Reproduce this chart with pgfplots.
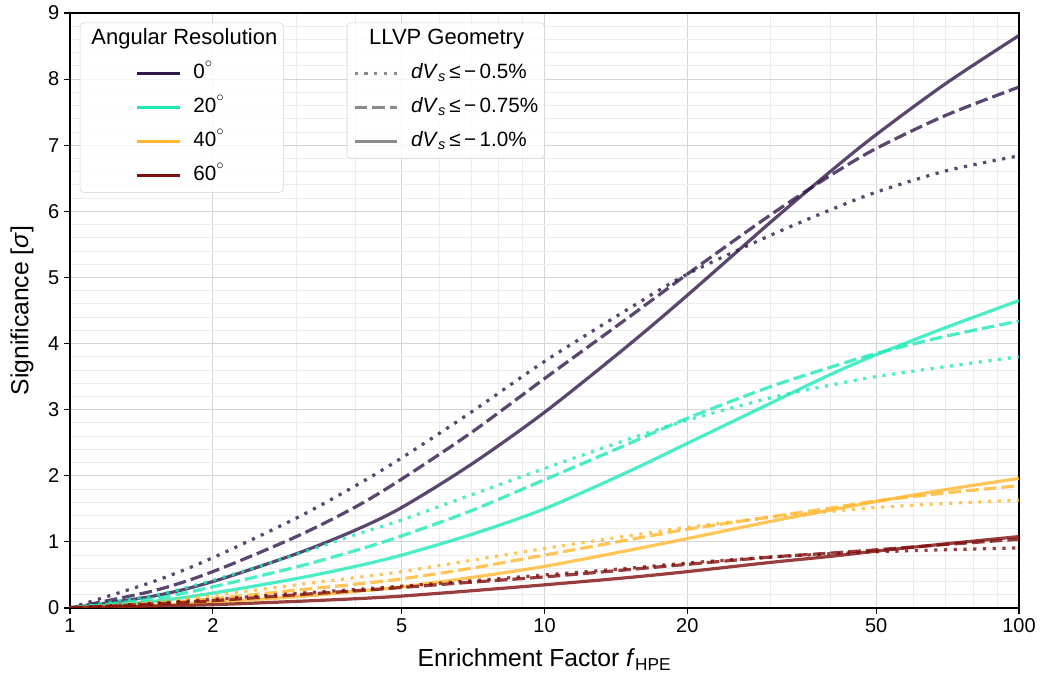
\documentclass[border=0pt]{standalone}
\usepackage{fontspec}
\setmainfont{Liberation Sans}
\usepackage{pgfplots}
\pgfplotsset{compat=1.18}

\definecolor{c0}{HTML}{31184B}
\definecolor{c20}{HTML}{1DE9B6}
\definecolor{c40}{HTML}{FFB72F}
\definecolor{c60}{HTML}{7F0E0E}
\definecolor{lg}{HTML}{8A8A8A}

\newcommand{\degs}{\textsuperscript{\raisebox{0.6ex}{$\circ$}}}

\pgfplotsset{
  sol/.style={line width=2.4pt, draw opacity=0.8},
  dsh/.style={line width=2.4pt, draw opacity=0.8, dash pattern=on 9.5pt off 3.8pt},
  dot/.style={line width=2.4pt, draw opacity=0.8, dash pattern=on 2.4pt off 4.9pt},
  legbox/.style={
    anchor=north west, draw=black!18, rounded corners=2.5pt,
    fill=white, fill opacity=0.8, draw opacity=1, text opacity=1,
    inner xsep=4.5pt, inner ysep=5.5pt, row sep=11.5pt,
    nodes={inner sep=0pt, text height=11pt, text depth=3pt},
    font=\fontsize{15.5}{18}\selectfont, cells={anchor=west}},
}

\begin{document}
\begin{tikzpicture}
\begin{axis}[name=main,
  scale only axis, width=711.75pt, height=446.25pt,
  xmode=log, xmin=1, xmax=100, ymin=0, ymax=9,
  xtick={1,2,5,10,20,50,100}, xticklabels={1,2,5,10,20,50,100},
  minor xtick={3,4,6,7,8,9,30,40,60,70,80,90},
  ytick={0,1,...,9}, minor y tick num=4,
  grid=both,
  major grid style={color=black!17, line width=0.8pt},
  minor grid style={color=black!7, line width=0.6pt},
  tick pos=left, tick align=outside,
  major tick length=4.5pt, minor tick length=0pt,
  tick style={black, line width=0.8pt},
  axis line style={black, line width=0.8pt},
  /pgf/number format/assume math mode=true,
  tick label style={font=\fontsize{15}{18}\selectfont},
  label style={font=\fontsize{18.5}{22}\selectfont},
  xlabel={Enrichment Factor \textit{f}\textsubscript{HPE}},
  ylabel={Significance [\textit{σ}]},
  x label style={at={(axis description cs:0.5,0)}, anchor=center, yshift=-39pt},
  y label style={at={(axis description cs:-0.0506,0.5)}, anchor=center},
  legend style={legbox, at={(rel axis cs:0.0105,0.9837)}, column sep=9pt},
  legend image code/.code={\path (-36.75pt,0pt); \draw[#1] (0pt,0pt) -- (32.25pt,0pt);},
]
% 0 deg
\addplot[c0, dot, smooth, forget plot] coordinates {(1,0)(1.5,0.40)(2,0.76)(3,1.36)(4,1.85)(5,2.27)(7,2.96)(10,3.73)(15,4.52)(20,5.05)(30,5.64)(40,6.02)(50,6.29)(70,6.61)(100,6.84)};
\addplot[c0, dsh, smooth, forget plot] coordinates {(1,0)(1.5,0.26)(2,0.55)(3,1.08)(4,1.53)(5,1.95)(7,2.65)(10,3.47)(15,4.39)(20,5.05)(30,5.95)(40,6.54)(50,6.95)(70,7.45)(100,7.88)};
\addplot[c0, sol, smooth, forget plot] coordinates {(1,0)(1.5,0.18)(2,0.40)(3,0.82)(4,1.18)(5,1.52)(7,2.17)(10,2.96)(15,3.97)(20,4.73)(30,5.84)(40,6.6)(50,7.16)(70,7.93)(100,8.66)};
% 20 deg
\addplot[c20, dot, smooth, forget plot] coordinates {(1,0)(1.5,0.19)(2,0.42)(3,0.81)(4,1.11)(5,1.33)(7,1.71)(10,2.11)(15,2.55)(20,2.84)(30,3.18)(40,3.37)(50,3.5)(70,3.65)(100,3.8)};
\addplot[c20, dsh, smooth, forget plot] coordinates {(1,0)(1.5,0.14)(2,0.32)(3,0.62)(4,0.87)(5,1.09)(7,1.47)(10,1.94)(15,2.48)(20,2.87)(30,3.35)(40,3.64)(50,3.85)(70,4.11)(100,4.34)};
\addplot[c20, sol, smooth, forget plot] coordinates {(1,0)(1.5,0.1)(2,0.225)(3,0.445)(4,0.63)(5,0.8)(7,1.11)(10,1.5)(15,2.06)(20,2.49)(30,3.1)(40,3.53)(50,3.83)(70,4.24)(100,4.65)};
% 40 deg
\addplot[c40, dot, smooth, forget plot] coordinates {(1,0)(1.5,0.09)(2,0.19)(3,0.35)(4,0.46)(5,0.55)(7,0.72)(10,0.9)(15,1.09)(20,1.22)(30,1.37)(40,1.46)(50,1.52)(70,1.58)(100,1.63)};
\addplot[c40, dsh, smooth, forget plot] coordinates {(1,0)(1.5,0.07)(2,0.14)(3,0.27)(4,0.36)(5,0.44)(7,0.6)(10,0.8)(15,1.03)(20,1.19)(30,1.38)(40,1.51)(50,1.62)(70,1.74)(100,1.85)};
\addplot[c40, sol, smooth, forget plot] coordinates {(1,0)(1.5,0.04)(2,0.09)(3,0.17)(4,0.25)(5,0.32)(7,0.46)(10,0.63)(15,0.87)(20,1.05)(30,1.31)(40,1.48)(50,1.61)(70,1.79)(100,1.96)};
% 60 deg
\addplot[c60, dot, smooth, forget plot] coordinates {(1,0)(1.5,0.07)(2,0.13)(3,0.22)(4,0.28)(5,0.33)(7,0.41)(10,0.5)(15,0.6)(20,0.68)(30,0.77)(40,0.82)(50,0.85)(70,0.88)(100,0.91)};
\addplot[c60, dsh, smooth, forget plot] coordinates {(1,0)(1.5,0.06)(2,0.11)(3,0.2)(4,0.26)(5,0.31)(7,0.39)(10,0.47)(15,0.58)(20,0.66)(30,0.77)(40,0.83)(50,0.88)(70,0.96)(100,1.04)};
\addplot[c60, sol, smooth, forget plot] coordinates {(1,0)(1.5,0.03)(2,0.05)(3,0.1)(4,0.14)(5,0.18)(7,0.26)(10,0.35)(15,0.46)(20,0.55)(30,0.69)(40,0.78)(50,0.86)(70,0.97)(100,1.08)};

\addlegendimage{empty legend}
\addlegendentry{\hspace*{-76.5pt}{\fontsize{16.5}{20}\selectfont Angular Resolution}}
\addlegendimage{c0, line width=2.4pt}
\addlegendentry{0\degs}
\addlegendimage{c20, line width=2.4pt}
\addlegendentry{20\degs}
\addlegendimage{c40, line width=2.4pt}
\addlegendentry{40\degs}
\addlegendimage{c60, line width=2.4pt}
\addlegendentry{60\degs}
\end{axis}

\begin{axis}[at={(main.south west)}, anchor=south west,
  scale only axis, width=711.75pt, height=446.25pt,
  hide axis, xmin=0, xmax=1, ymin=0, ymax=1,
  legend style={legbox, at={(rel axis cs:0.2916,0.9837)}, column sep=9.75pt},
  legend image code/.code={\draw[#1] (0pt,0pt) -- (31.5pt,0pt);},
]
\addlegendimage{empty legend}
\addlegendentry{\hspace*{-31.5pt}{\fontsize{16.5}{20}\selectfont LLVP Geometry}}
\addlegendimage{lg, line width=2.4pt, dash pattern=on 2.4pt off 4.9pt}
\addlegendentry{\textit{dV}\textsubscript{\textit{s}}\,≤\,−\,0.5\%}
\addlegendimage{lg, line width=2.4pt, dash pattern=on 9.5pt off 3.8pt}
\addlegendentry{\textit{dV}\textsubscript{\textit{s}}\,≤\,−\,0.75\%}
\addlegendimage{lg, line width=2.4pt}
\addlegendentry{\textit{dV}\textsubscript{\textit{s}}\,≤\,−\,1.0\%}
\end{axis}

\path ([xshift=-52.5pt,yshift=-55.5pt]main.south west) rectangle ([xshift=18pt,yshift=9.75pt]main.north east);
\end{tikzpicture}
\end{document}
